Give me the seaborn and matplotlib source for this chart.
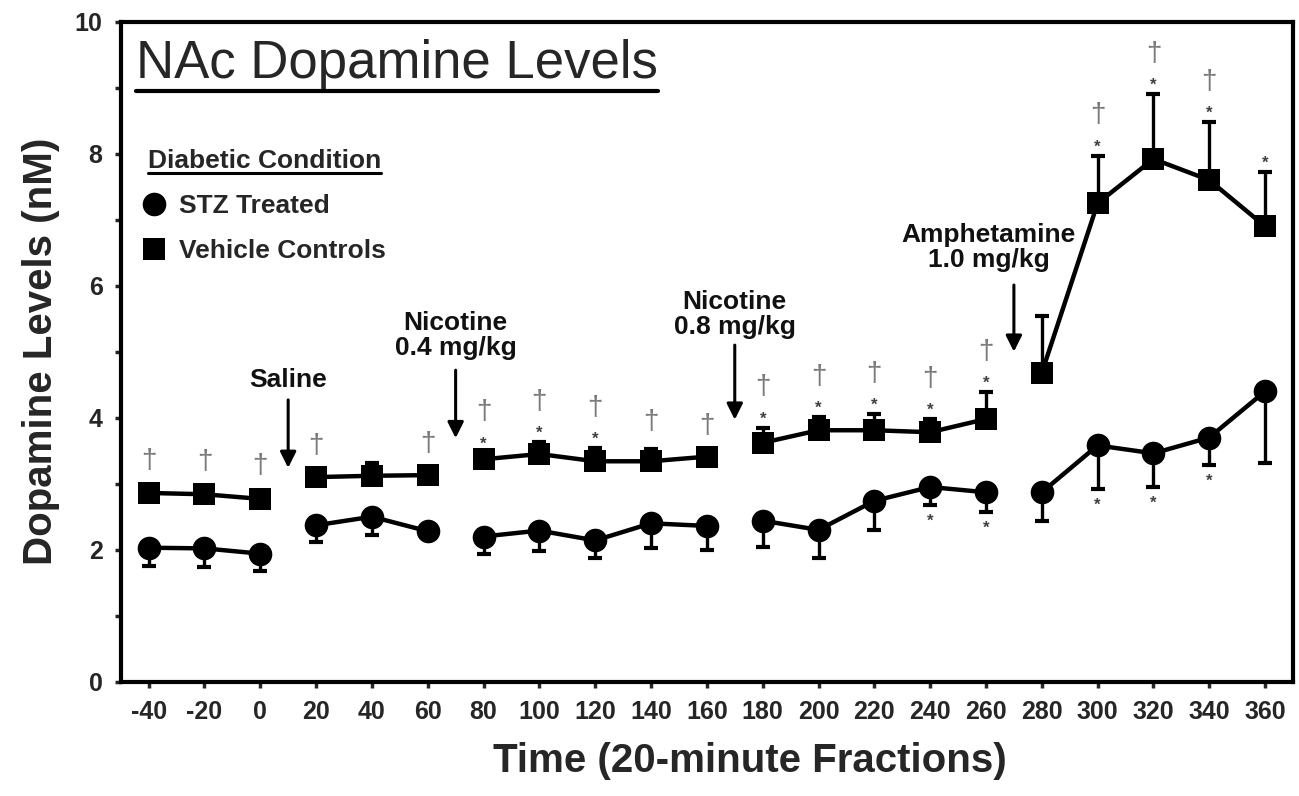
import numpy as np
import pandas as pd
import matplotlib
matplotlib.use('Agg')
import matplotlib.pyplot as plt
from matplotlib.lines import Line2D
import seaborn as sns

# data (20-minute fractions)
time = [-40, -20, 0, 20, 40, 60, 80, 100, 120, 140, 160,
        180, 200, 220, 240, 260, 280, 300, 320, 340, 360]
segment = [0, 0, 0, 1, 1, 1, 2, 2, 2, 2, 2, 3, 3, 3, 3, 3, 4, 4, 4, 4, 4]

vehicle = [2.86, 2.84, 2.77, 3.10, 3.12, 3.13, 3.37, 3.45, 3.34, 3.34, 3.41,
           3.62, 3.81, 3.81, 3.78, 3.98, 4.68, 7.25, 7.92, 7.60, 6.90]
vehicle_sem = [0.06, 0.06, 0.08, 0.05, 0.19, 0.05, 0.10, 0.18, 0.20, 0.18, 0.05,
               0.23, 0.20, 0.24, 0.20, 0.41, 0.86, 0.72, 0.98, 0.88, 0.83]

stz = [2.03, 2.02, 1.94, 2.37, 2.50, 2.28, 2.20, 2.29, 2.14, 2.40, 2.36,
       2.44, 2.30, 2.74, 2.95, 2.87, 2.87, 3.58, 3.46, 3.70, 4.40]
stz_sem = [0.28, 0.28, 0.26, 0.26, 0.28, 0.08, 0.26, 0.31, 0.27, 0.38, 0.37,
           0.40, 0.43, 0.44, 0.27, 0.30, 0.43, 0.66, 0.51, 0.42, 1.09]

# significance marks
vehicle_dagger = [1, 1, 1, 1, 0, 1, 1, 1, 1, 1, 1, 1, 1, 1, 1, 1, 0, 1, 1, 1, 0]
vehicle_star = [0, 0, 0, 0, 0, 0, 1, 1, 1, 0, 0, 1, 1, 1, 1, 1, 0, 1, 1, 1, 1]
stz_star = [0, 0, 0, 0, 0, 0, 0, 0, 0, 0, 0, 0, 0, 0, 1, 1, 0, 1, 1, 1, 0]

injections = ['Saline', 'Nicotine\n0.4 mg/kg', 'Nicotine\n0.8 mg/kg', 'Amphetamine\n1.0 mg/kg']
inj_time = [10, 70, 170, 270]
inj_text_x = [10, 70, 170, 261]
inj_text_y = [4.57, 5.24, 5.57, 6.58]
inj_arrow_top = [4.27, 4.72, 5.10, 6.01]
inj_arrow_tip = [3.24, 3.69, 3.97, 5.00]

sns.set_theme(style='ticks')
plt.rcParams['font.family'] = ['Liberation Sans', 'DejaVu Sans']

df = pd.DataFrame({
    'time': time * 2,
    'level': stz + vehicle,
    'segment': segment * 2,
    'group': ['STZ Treated'] * len(time) + ['Vehicle Controls'] * len(time),
})

fig = plt.figure(figsize=(12.99, 7.96), dpi=100)
ax = fig.add_axes([0.0929, 0.1436, 0.9025, 0.8291])

styles = {'STZ Treated': ('o', 17), 'Vehicle Controls': ('s', 15.5)}
for grp, (mk, ms) in styles.items():
    sns.lineplot(data=df[df.group == grp], x='time', y='level', units='segment',
                 estimator=None, color='black', lw=3.2, marker=mk, markersize=ms,
                 markeredgewidth=0, legend=False, ax=ax, zorder=3)

zeros = np.zeros(len(time))
ax.errorbar(time, vehicle, yerr=[zeros, vehicle_sem], fmt='none', ecolor='black',
            elinewidth=2.4, capsize=5, capthick=3, zorder=2)
ax.errorbar(time, stz, yerr=[stz_sem, zeros], fmt='none', ecolor='black',
            elinewidth=2.4, capsize=5, capthick=3, zorder=2)

# daggers / asterisks
for t, v, e, d, s in zip(time, vehicle, vehicle_sem, vehicle_dagger, vehicle_star):
    top = v + e
    if s:
        ax.annotate('*', (t, top), xytext=(0, 3), textcoords='offset points',
                    ha='center', va='baseline', fontsize=12, color='#404040',
                    fontweight='bold')
    if d:
        ax.annotate('\u2020', (t, top), xytext=(0, 24 if s else 15),
                    textcoords='offset points', ha='center', va='baseline',
                    fontsize=20, color='#7a7a7a')
for t, v, e, s in zip(time, stz, stz_sem, stz_star):
    if s:
        ax.annotate('*', (t, v - e), xytext=(0, -15), textcoords='offset points',
                    ha='center', va='baseline', fontsize=12, color='#404040',
                    fontweight='bold')

# injection arrows
for lab, t, tx, ty, a0, a1 in zip(injections, inj_time, inj_text_x, inj_text_y,
                                  inj_arrow_top, inj_arrow_tip):
    ax.annotate('', xy=(t, a1), xytext=(t, a0),
                arrowprops=dict(arrowstyle='-|>', color='black', lw=2.2,
                                mutation_scale=24, shrinkA=0, shrinkB=0))
    ax.text(tx, ty, lab, ha='center', va='center', fontsize=19,
            fontweight='bold', linespacing=1.05, color='#111111')

ax.set_xlim(-50, 370)
ax.set_ylim(0, 10)
ax.set_xticks(time)
ax.set_xticklabels([str(t) for t in time])
ax.set_yticks([0, 2, 4, 6, 8, 10])
ax.set_yticks([1, 3, 5, 7, 9], minor=True)
for sp in ax.spines.values():
    sp.set_linewidth(3)
    sp.set_color('black')
ax.tick_params(axis='both', which='both', direction='out', width=2.5, length=4,
               labelsize=18, pad=9)
for lbl in ax.get_xticklabels() + ax.get_yticklabels():
    lbl.set_fontweight('bold')

ax.set_xlabel('Time (20-minute Fractions)', fontsize=29, fontweight='bold')
ax.set_ylabel('Dopamine Levels (nM)', fontsize=29, fontweight='bold')
ax.xaxis.set_label_coords(0.537, -0.091)
ax.yaxis.set_label_coords(-0.052, 0.5)

title = fig.text(136 / 1299, 1 - 78 / 796, 'NAc Dopamine Levels', fontsize=38,
                 ha='left', va='baseline')

handles = [Line2D([], [], marker='o', ls='none', color='black', ms=17, mew=0,
                  label='STZ Treated'),
           Line2D([], [], marker='s', ls='none', color='black', ms=15.5, mew=0,
                  label='Vehicle Controls')]
leg = ax.legend(handles=handles, title='Diabetic Condition', loc='upper left',
                bbox_to_anchor=(0.023, 0.807), frameon=False, alignment='left',
                borderpad=0, borderaxespad=0, handlelength=0.5,
                handletextpad=0.7, labelspacing=0.8,
                prop={'size': 19, 'weight': 'bold'},
                title_fontproperties={'size': 19, 'weight': 'bold'})

# underline title and legend title
fig.canvas.draw()
r = fig.canvas.get_renderer()
W, H = fig.bbox.width, fig.bbox.height
for txt, dy, lw in [(title, -2, 3), (leg.get_title(), 0, 2.2)]:
    bb = txt.get_window_extent(r)
    y = (bb.y0 + dy) / H
    fig.add_artist(Line2D([bb.x0 / W, bb.x1 / W], [y, y], color='black', lw=lw,
                          transform=fig.transFigure))

fig.savefig('out.png', dpi=100)
